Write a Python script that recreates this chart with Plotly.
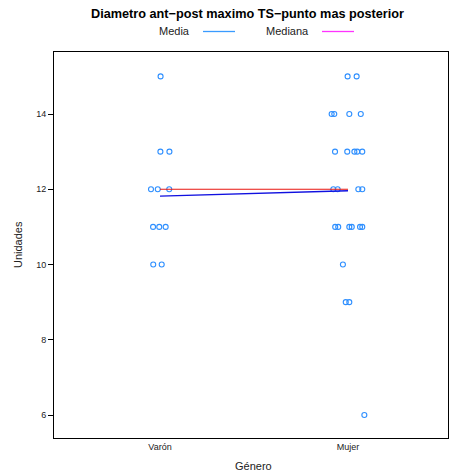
import plotly.graph_objects as go

# ---- data ----
categories = ["Varón", "Mujer"]
cat_pos = [1, 2]

varon_values = [15, 13, 13, 12, 12, 12, 11, 11, 11, 10, 10]
varon_jitter = [0.003, 0.002, 0.05, -0.048, -0.012, 0.049, -0.037, -0.004, 0.03, -0.036, 0.009]

mujer_values = [15, 15, 14, 14, 14, 14, 13, 13, 13, 13, 13, 12, 12, 12, 12,
                11, 11, 11, 11, 11, 11, 10, 9, 9, 6]
mujer_jitter = [-0.002, 0.046, -0.087, -0.073, 0.007, 0.068, -0.069, -0.004, 0.034, 0.049, 0.076,
                -0.078, -0.055, 0.055, 0.076, -0.068, -0.052, 0.007, 0.02, 0.064, 0.076,
                -0.027, -0.012, 0.007, 0.087]

media = [sum(varon_values) / len(varon_values), sum(mujer_values) / len(mujer_values)]
mediana = [12, 12]

y_ticks = [6, 8, 10, 12, 14]

title_text = "Diametro ant\u2212post maximo TS\u2212punto mas posterior"
legend_labels = ["Media", "Mediana"]
x_title = "Género"
y_title = "Unidades"

point_color = "#2E8FFF"
FONT = "Liberation Sans, Arial, Helvetica, sans-serif"

fig = go.Figure()

xs = [cat_pos[0] + j for j in varon_jitter] + [cat_pos[1] + j for j in mujer_jitter]
ys = varon_values + mujer_values
fig.add_trace(go.Scatter(
    x=xs, y=ys, mode="markers",
    marker=dict(symbol="circle-open", size=5, color=point_color, line=dict(width=1.1, color=point_color)),
    showlegend=False, hoverinfo="skip"))

fig.add_trace(go.Scatter(x=cat_pos, y=mediana, mode="lines",
                         line=dict(color="#E8140F", width=1.2), showlegend=False))
fig.add_trace(go.Scatter(x=cat_pos, y=media, mode="lines",
                         line=dict(color="#1010E0", width=1.4), showlegend=False))

W, H = 454, 473
L, R, T, B = 54, 6, 52, 35
pw, ph = W - L - R, H - T - B

def px_x(px):
    return (px - L) / pw

def px_y(py):
    return (H - B - py) / ph

annotations = [
    dict(text="<b>" + title_text + "</b>", x=px_x(247), y=px_y(14), xref="paper", yref="paper",
         showarrow=False, font=dict(size=12.7, color="black", family=FONT), xanchor="center", yanchor="middle"),
    dict(text=legend_labels[0], x=px_x(174), y=px_y(31), xref="paper", yref="paper",
         showarrow=False, font=dict(size=11, color="#222", family=FONT), xanchor="center", yanchor="middle"),
    dict(text=legend_labels[1], x=px_x(287.5), y=px_y(31), xref="paper", yref="paper",
         showarrow=False, font=dict(size=11, color="#222", family=FONT), xanchor="center", yanchor="middle"),
    dict(text=x_title, x=px_x(253), y=px_y(466), xref="paper", yref="paper",
         showarrow=False, font=dict(size=11, color="#222", family=FONT), xanchor="center", yanchor="middle"),
    dict(text=y_title, x=px_x(18), y=px_y(245), xref="paper", yref="paper", textangle=-90,
         showarrow=False, font=dict(size=11, color="#222", family=FONT), xanchor="center", yanchor="middle"),
]
shapes = [
    dict(type="line", xref="paper", yref="paper", x0=px_x(203), x1=px_x(235), y0=px_y(31.5), y1=px_y(31.5),
         line=dict(color="#3A9BFF", width=1.3)),
    dict(type="line", xref="paper", yref="paper", x0=px_x(322), x1=px_x(354), y0=px_y(31.5), y1=px_y(31.5),
         line=dict(color="#FF33FF", width=1.3)),
]

fig.update_layout(
    width=W, height=H,
    margin=dict(l=L, r=R, t=T, b=B, autoexpand=False),
    paper_bgcolor="white", plot_bgcolor="white",
    font=dict(family=FONT, color="#222"),
    annotations=annotations, shapes=shapes,
    showlegend=False,
    xaxis=dict(range=[0.436, 2.532], tickvals=cat_pos, ticktext=categories, automargin=False,
               showgrid=False, zeroline=False, showline=True, linecolor="black", linewidth=1,
               mirror=True, ticks="", tickfont=dict(size=9, color="#222")),
    yaxis=dict(range=[5.389, 15.648], tickvals=y_ticks, automargin=False,
               showgrid=False, zeroline=False, showline=True, linecolor="black", linewidth=1,
               mirror=True, ticks="outside", ticklen=5, tickcolor="black", tickfont=dict(size=9, color="#222")),
)

fig.write_html("out.html")
